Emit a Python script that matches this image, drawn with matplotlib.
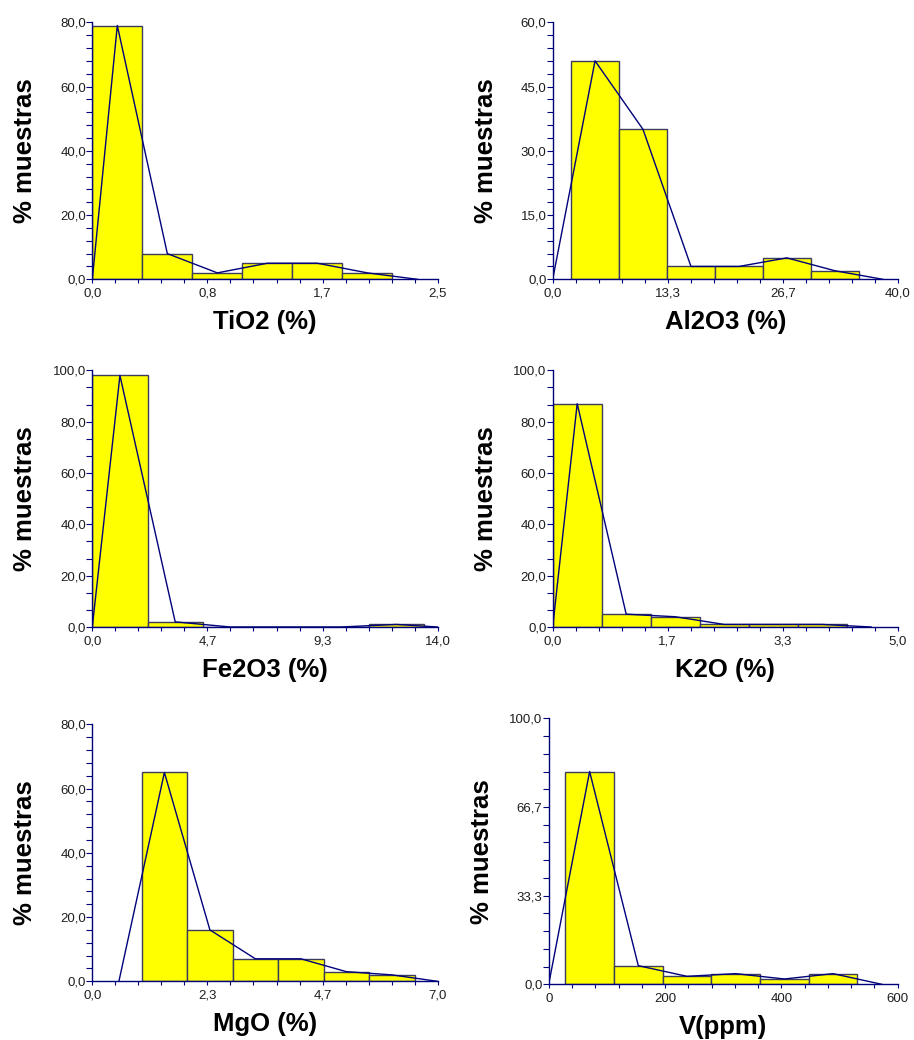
import numpy as np
import matplotlib.pyplot as plt

plt.rcParams['font.family'] = ['Liberation Sans', 'DejaVu Sans']

# frequency tables: bin edges and % of samples per bin
tio2_edges = [0.0, 0.362, 0.724, 1.086, 1.448, 1.810, 2.172]
tio2_pct = [79, 8, 2, 5, 5, 2]

al2o3_edges = [2.13, 7.69, 13.25, 18.81, 24.37, 29.93, 35.49]
al2o3_pct = [51, 35, 3, 3, 5, 2]

fe2o3_edges = [0.0, 2.24, 4.48, 6.72, 8.96, 11.20, 13.44]
fe2o3_pct = [98, 2, 0, 0, 0, 1]

k2o_edges = [0.0, 0.71, 1.42, 2.13, 2.84, 3.55, 4.26]
k2o_pct = [87, 5, 4, 1, 1, 1]

mgo_edges = [1.0, 1.922, 2.844, 3.766, 4.688, 5.610, 6.532]
mgo_pct = [65, 16, 7, 7, 3, 2]

v_edges = [28.5, 112.2, 195.9, 279.6, 363.3, 447.0, 530.7]
v_pct = [80, 7, 3, 4, 2, 4]

labels = ['TiO2 (%)', 'Al2O3 (%)', 'Fe2O3 (%)', 'K2O (%)', 'MgO (%)', 'V(ppm)']

# (xmax, ymax, y label intervals, y tick intervals)
axis_cfg = [
    (2.5, 80, 4, 20),
    (40.0, 60, 4, 20),
    (14.0, 100, 5, 15),
    (5.0, 100, 5, 15),
    (7.0, 80, 4, 20),
    (600, 100, 3, 15),
]

edges_all = [tio2_edges, al2o3_edges, fe2o3_edges, k2o_edges, mgo_edges, v_edges]
pct_all = [tio2_pct, al2o3_pct, fe2o3_pct, k2o_pct, mgo_pct, v_pct]

# axes boxes in pixels: left, top, right, bottom
boxes = [
    (92.3, 22.3, 437.7, 279.3),
    (552.7, 22.3, 897.7, 279.3),
    (92.3, 370.3, 437.7, 627.0),
    (552.7, 370.3, 897.7, 627.0),
    (92.3, 724.3, 437.7, 981.3),
    (548.7, 718.3, 897.7, 984.3),
]

W, H = 914, 1040
navy = '#00007a'
fig = plt.figure(figsize=(W / 100, H / 100), dpi=100)


def comma(v, dec=1):
    return f'{v:.{dec}f}'.replace('.', ',')


for i in range(6):
    l, t, r, b = boxes[i]
    ax = fig.add_axes([l / W, 1 - b / H, (r - l) / W, (b - t) / H])
    edges = np.array(edges_all[i])
    pct = np.array(pct_all[i])
    xmax, ymax, ylab_n, ytick_n = axis_cfg[i]

    widths = np.diff(edges)
    ax.bar(edges[:-1], pct, width=widths, align='edge', color='#ffff00',
           edgecolor='#3c3c5e', linewidth=1.0, zorder=1)

    # frequency polygon through bin midpoints, closed to zero one bin out
    mids = (edges[:-1] + edges[1:]) / 2
    w = widths[0]
    px = np.clip(np.concatenate([[mids[0] - w], mids, [mids[-1] + w]]), 0, xmax)
    py = np.concatenate([[0], pct, [0]])
    ax.plot(px, py, color=navy, lw=1.0, zorder=3)

    ax.set_xlim(0, xmax)
    ax.set_ylim(0, ymax)
    for s in ['top', 'right']:
        ax.spines[s].set_visible(False)
    for s in ['left', 'bottom']:
        ax.spines[s].set_color(navy)
        ax.spines[s].set_linewidth(1.0)

    xmaj = np.linspace(0, xmax, 4)
    ax.set_xticks(xmaj)
    ax.set_xticks(np.linspace(0, xmax, 16), minor=True)
    if i == 5:
        ax.set_xticklabels([f'{v:.0f}' for v in xmaj])
    else:
        ax.set_xticklabels([comma(v) for v in xmaj])

    ymaj = np.linspace(0, ymax, ylab_n + 1)
    ax.set_yticks(ymaj)
    ax.set_yticks(np.linspace(0, ymax, ytick_n + 1), minor=True)
    ax.set_yticklabels([comma(v) for v in ymaj])

    ax.tick_params(which='both', direction='out', width=0.8,
                   color=navy, labelsize=9.5, labelcolor='#1e1e1e')
    ax.tick_params(axis='y', which='both', length=4.0, pad=0.5)
    ax.tick_params(axis='x', which='both', length=3.2, pad=3.0)

    ax.set_xlabel(labels[i], fontsize=18.5, fontweight='bold', va='baseline')
    ax.xaxis.set_label_coords(0.5, -50 / (b - t))
    ax.set_ylabel('% muestras', fontsize=18.5, fontweight='bold', va='baseline')
    ax.yaxis.set_label_coords(-60 / (r - l), 0.5)

fig.savefig('out.png', dpi=100)
